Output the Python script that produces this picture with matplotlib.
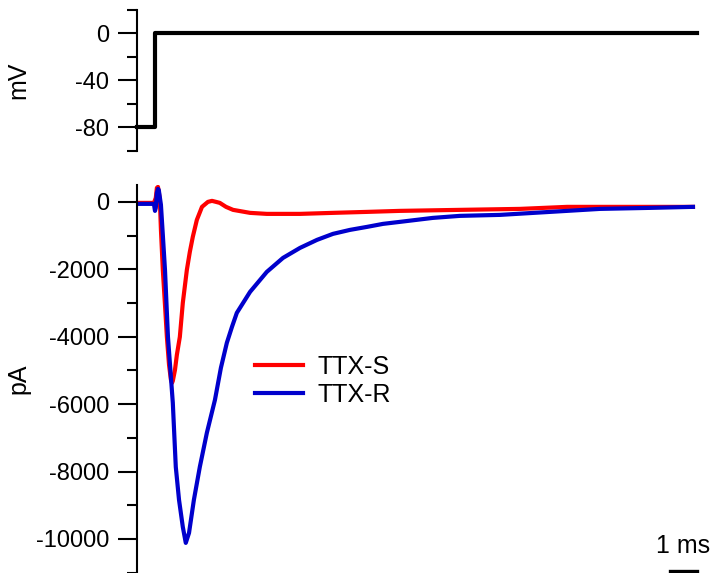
import numpy as np
import matplotlib
matplotlib.use('Agg')
import matplotlib.pyplot as plt

plt.rcParams['font.family'] = ['Liberation Sans', 'DejaVu Sans']
plt.rcParams['axes.unicode_minus'] = False  # 用普通连字符

# 电压刺激 (ms, mV)
t_v = [0.0, 0.67, 20.74]
v_cmd = [-80, 0, 0]

# TTX-S 电流 (ms, pA)
t_s = [0.0, 0.48, 0.63, 0.70, 0.74, 0.78, 0.81, 0.85, 0.89, 0.96, 1.04, 1.11, 1.19,
       1.26, 1.30, 1.33, 1.41, 1.48, 1.59, 1.70, 1.85, 1.96, 2.07, 2.22, 2.41, 2.63,
       2.78, 2.93, 3.07, 3.30, 3.56, 4.19, 4.81, 6.04, 7.26, 8.52, 9.74, 11.96, 14.19,
       15.93, 17.89, 20.59]
i_s = [-30, -30, -30, 120, 415, 445, 297, 59, -831, -2018, -3056, -4005, -4836,
       -5281, -5370, -5311, -4985, -4539, -4005, -2997, -2018, -1484, -1038, -534, -148, 0,
       30, 0, -30, -148, -237, -326, -356, -356, -326, -297, -267, -237, -208,
       -148, -148, -148]

# TTX-R 电流 (ms, pA)
t_r = [0.0, 0.48, 0.63, 0.67, 0.70, 0.74, 0.78, 0.81, 0.89, 0.96, 1.04, 1.15, 1.33,
       1.44, 1.56, 1.70, 1.81, 1.93, 2.11, 2.33, 2.59, 2.89, 3.11, 3.33, 3.52, 3.70,
       4.19, 4.81, 5.41, 6.04, 6.67, 7.26, 7.89, 8.52, 9.11, 9.74, 10.96, 11.96, 13.44,
       15.30, 17.15, 19.0, 20.59]
i_r = [-59, -59, -59, -267, -178, 267, 386, 356, -89, -979, -2018, -4005, -5964,
       -7863, -8842, -9643, -10117, -9821, -8842, -7863, -6854, -5875, -4925, -4183, -3709, -3293,
       -2670, -2077, -1662, -1365, -1127, -949, -831, -742, -653, -593, -475, -415, -386,
       -297, -208, -178, -148]

fig = plt.figure(figsize=(7.13, 5.73), dpi=100)
ax1 = fig.add_axes([0.192, 0.7373, 0.7856, 0.2461])
ax2 = fig.add_axes([0.192, 0.0, 0.7856, 0.6771])

for ax in (ax1, ax2):
    ax.patch.set_alpha(0)
    for s in ('top', 'right', 'bottom'):
        ax.spines[s].set_visible(False)
    ax.spines['left'].set_linewidth(1.5)
    ax.set_xticks([])
    ax.set_xlim(0, 20.74)
    ax.tick_params(axis='y', which='major', length=14, width=1.5, labelsize=17, pad=6)
    ax.tick_params(axis='y', which='minor', length=7, width=1.5)

# 上图：电压
ax1.plot(t_v, v_cmd, color='black', lw=3, drawstyle='steps-post', clip_on=False)
ax1.set_ylim(-100, 20)
ax1.set_yticks([0, -40, -80])
ax1.set_yticks([20, -20, -60, -100], minor=True)
ax1.set_ylabel('mV', fontsize=18)
ax1.yaxis.set_label_coords(-0.19, 0.5)

# 下图：电流
ax2.plot(t_s, i_s, color='#ff0000', lw=3, label='TTX-S')
ax2.plot(t_r, i_r, color='#0000cc', lw=3, label='TTX-R')
ax2.set_ylim(-11010, 500)
ax2.set_yticks([0, -2000, -4000, -6000, -8000, -10000])
ax2.set_yticks(np.arange(-11000, 0, 2000), minor=True)
ax2.set_ylabel('pA', fontsize=18)
ax2.yaxis.set_label_coords(-0.19, 0.5)

ax2.legend(loc='upper left', bbox_to_anchor=(0.211, 0.562), frameon=False, fontsize=18,
           handlelength=1.92, handletextpad=0.56, labelspacing=0.15,
           borderpad=0, borderaxespad=0)

# 比例尺
ax2.plot([19.74, 20.74], [-10948, -10948], color='black', lw=2.4, clip_on=False)
ax2.text(20.24, -10560, '1 ms', ha='center', va='bottom', fontsize=18)

fig.savefig('out.png', dpi=100)
